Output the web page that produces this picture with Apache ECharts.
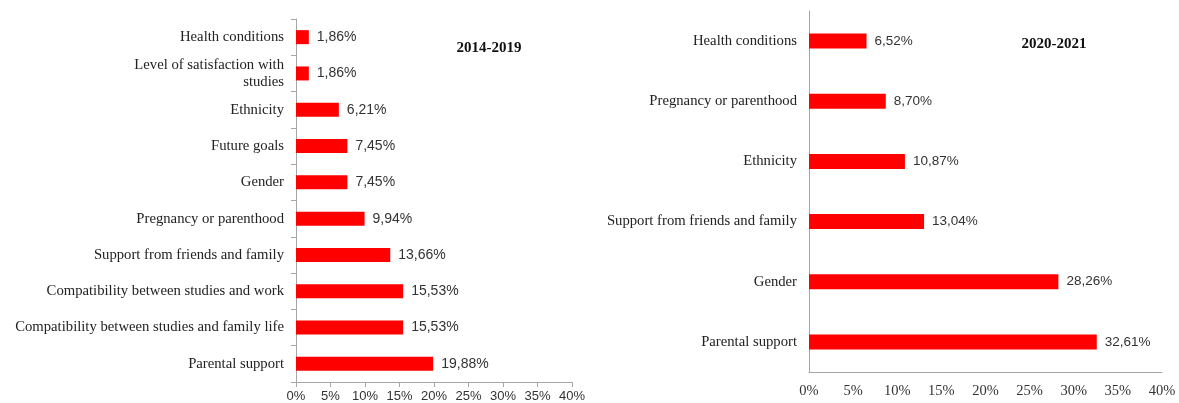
<html lang="en">
<head>
    <meta charset="UTF-8">
    <title>Factors 2014-2019 / 2020-2021</title>
    <script src="https://cdn.jsdelivr.net/npm/echarts@6/dist/echarts.min.js"></script>
</head>
<body style="margin:0;background:#fff">
    <div id="main" style="width:1179px;height:403px;"></div>
    <script type="text/javascript">
        // left panel: 2014-2019
        var cats1 = ['Health conditions', 'Level of satisfaction with studies', 'Ethnicity', 'Future goals', 'Gender',
            'Pregnancy or parenthood', 'Support from friends and family', 'Compatibility between studies and work',
            'Compatibility between studies and family life', 'Parental support'];
        var vals1 = [1.86, 1.86, 6.21, 7.45, 7.45, 9.94, 13.66, 15.53, 15.53, 19.88];

        // right panel: 2020-2021
        var cats2 = ['Health conditions', 'Pregnancy or parenthood', 'Ethnicity', 'Support from friends and family',
            'Gender', 'Parental support'];
        var vals2 = [6.52, 8.70, 10.87, 13.04, 28.26, 32.61];

        var titles = ['2014-2019', '2020-2021'];
        var xTicks = [0, 5, 10, 15, 20, 25, 30, 35, 40];

        var serif = '"Liberation Serif", "DejaVu Serif", serif';
        var sans = '"Liberation Sans", Arial, sans-serif';

        var myChart = echarts.init(document.getElementById('main'));

        // left panel has sans tick labels with ticks, right one serif labels without ticks
        function xAxisOpt(idx, showTicks, font, size, margin) {
            return {
                type: 'value', gridIndex: idx,
                min: xTicks[0], max: xTicks[xTicks.length - 1], interval: 5,
                splitLine: { show: false },
                axisLine: { show: true, lineStyle: { color: '#a6a6a6' } },
                axisTick: { show: showTicks, length: 5, lineStyle: { color: '#a6a6a6' } },
                axisLabel: { formatter: '{value}%', color: '#333', fontFamily: font, fontSize: size, margin: margin }
            };
        }

        function yAxisOpt(idx, cats, showTicks) {
            return {
                type: 'category', gridIndex: idx, data: cats, inverse: true,
                axisLine: { show: true, lineStyle: { color: '#a6a6a6' } },
                axisTick: { show: showTicks, length: 5, lineStyle: { color: '#a6a6a6' } },
                axisLabel: {
                    color: '#222', fontFamily: serif, fontSize: 14.7, margin: 12, lineHeight: 17,
                    formatter: function (v) {
                        return v === 'Level of satisfaction with studies' ? 'Level of satisfaction with\nstudies' : v;
                    }
                }
            };
        }

        function barSeries(idx, vals, w, size) {
            return {
                type: 'bar', xAxisIndex: idx, yAxisIndex: idx, data: vals, barWidth: w,
                itemStyle: { color: '#ff0000' },
                label: {
                    show: true, position: 'right', distance: 8, color: '#333', fontFamily: sans, fontSize: size,
                    formatter: function (p) { return p.value.toFixed(2).replace('.', ',') + '%'; }
                }
            };
        }

        var option = {
            animation: false,
            title: [
                { text: titles[0], left: 484, top: 36, textAlign: 'center',
                  textStyle: { fontFamily: serif, fontSize: 15, fontWeight: 'bold', color: '#111' } },
                { text: titles[1], left: 1049, top: 32, textAlign: 'center',
                  textStyle: { fontFamily: serif, fontSize: 15, fontWeight: 'bold', color: '#111' } }
            ],
            grid: [
                { left: 296, right: 607, top: 19, bottom: 21 },
                { left: 809, right: 17, top: 11, bottom: 31 }
            ],
            xAxis: [xAxisOpt(0, true, sans, 13, 8), xAxisOpt(1, false, serif, 14.5, 12)],
            yAxis: [yAxisOpt(0, cats1, true), yAxisOpt(1, cats2, false)],
            series: [barSeries(0, vals1, 14, 14), barSeries(1, vals2, 15, 13.5)]
        };
        myChart.setOption(option);
    </script>
</body>
</html>
